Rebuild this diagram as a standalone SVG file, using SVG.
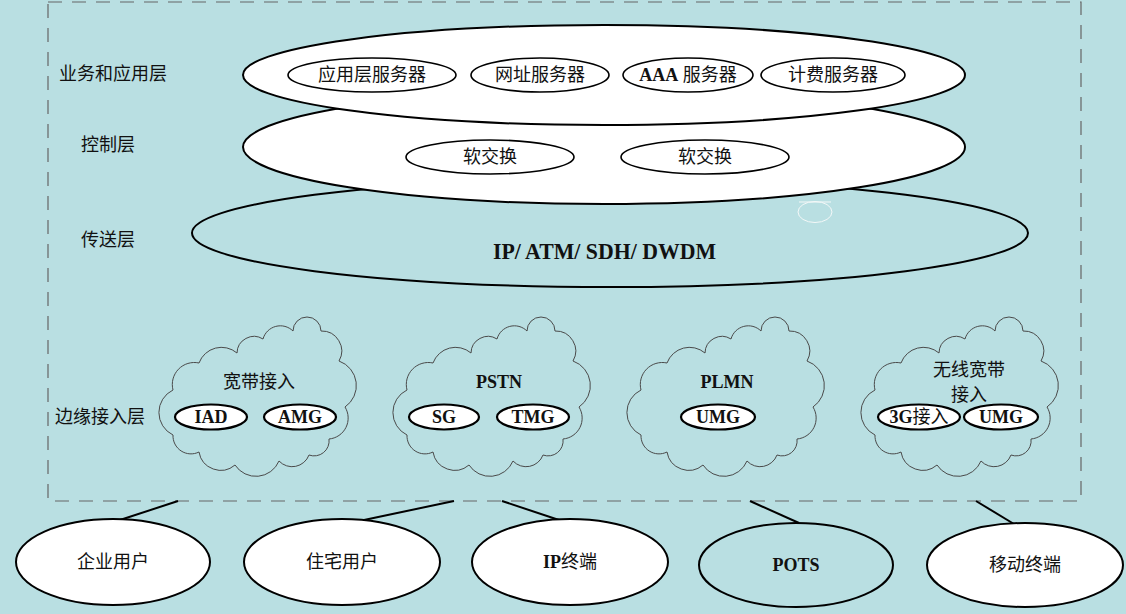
<svg xmlns="http://www.w3.org/2000/svg" xmlns:xlink="http://www.w3.org/1999/xlink" width="1126" height="614" viewBox="0 0 1126 614">
<style>
.t{font-family:"Liberation Serif","Noto Sans CJK SC",serif;font-size:18px;fill:#111;text-anchor:middle}
.b{font-weight:bold}
.lay{stroke:#000;stroke-width:2}
.in{fill:#fff;stroke:#000;stroke-width:1.6}
.sm{fill:#fff;stroke:#000;stroke-width:2.2}
.cl{fill:none;stroke:#4a4a4a;stroke-width:1}
.usr{stroke:#000;stroke-width:2}
.con line{stroke:#000;stroke-width:2}
</style>
<defs>
<path id="cloud" d="M40,137 A18,18 0 0 1 14,120 A25,25 0 0 1 14,75 A22,22 0 0 1 40,48 A24,24 0 0 1 78,38 A17,17 0 0 1 104,24 A18,18 0 0 1 134,16 A14,14 0 0 1 162,16 A20,20 0 0 1 180,46 A26,26 0 0 1 186,92 A21,21 0 0 1 170,124 A15,15 0 0 1 150,140 A18,18 0 0 1 120,146 A25,25 0 0 1 76,150 A22,22 0 0 1 40,137 Z"/>
</defs>
<rect width="1126" height="614" fill="#b9dfe2"/>
<rect x="48" y="2" width="1033" height="499" fill="none" stroke="#666" stroke-width="1.2" stroke-dasharray="14,10"/>

<g id="labels">
<text class="t" x="113" y="80">业务和应用层</text>
<text class="t" x="108" y="151">控制层</text>
<text class="t" x="108" y="246">传送层</text>
<text class="t" x="100" y="423">边缘接入层</text>
</g>

<g id="transport">
<ellipse class="lay" cx="610" cy="233" rx="418" ry="54" fill="#b9dfe2"/>
<ellipse cx="815" cy="212" rx="17" ry="10.5" fill="none" stroke="#f4f8f8" stroke-width="1"/>
<line x1="799" y1="202" x2="831" y2="202" stroke="#f4f8f8" stroke-width="1"/>
<text class="t b" x="493" y="259" style="font-size:24px;text-anchor:start" textLength="223" lengthAdjust="spacingAndGlyphs">IP/ ATM/ SDH/ DWDM</text>
</g>

<g id="control">
<ellipse class="lay" cx="604" cy="147" rx="361" ry="57" fill="#fff"/>
<g id="softswitch1"><ellipse class="in" cx="490" cy="157" rx="84" ry="17"/><text class="t" x="490" y="163">软交换</text></g>
<g id="softswitch2"><ellipse class="in" cx="705" cy="157" rx="84" ry="17"/><text class="t" x="705" y="163">软交换</text></g>
</g>

<g id="service">
<ellipse class="lay" cx="604" cy="75" rx="361" ry="50" fill="#fff"/>
<g id="appserver"><ellipse class="in" cx="372" cy="75" rx="84" ry="17"/><text class="t" x="372" y="81">应用层服务器</text></g>
<g id="urlserver"><ellipse class="in" cx="540" cy="75" rx="69" ry="17"/><text class="t" x="540" y="81">网址服务器</text></g>
<g id="aaaserver"><ellipse class="in" cx="688" cy="75" rx="65" ry="17"/><text class="t" x="688" y="81"><tspan class="b">AAA</tspan> 服务器</text></g>
<g id="billing"><ellipse class="in" cx="833" cy="75" rx="72" ry="17"/><text class="t" x="833" y="81">计费服务器</text></g>
</g>

<g id="broadband">
<use xlink:href="#cloud" href="#cloud" x="159" y="315" class="cl"/>
<text class="t" x="259" y="388">宽带接入</text>
<g id="iad"><ellipse class="sm" cx="211" cy="417" rx="36" ry="12.5"/><text class="t b" x="211" y="423">IAD</text></g>
<g id="amg"><ellipse class="sm" cx="300" cy="417" rx="36" ry="12.5"/><text class="t b" x="300" y="423">AMG</text></g>
</g>

<g id="pstn">
<use xlink:href="#cloud" href="#cloud" x="393" y="315" class="cl"/>
<text class="t b" x="499" y="388">PSTN</text>
<g id="sg"><ellipse class="sm" cx="444" cy="417" rx="35" ry="12.5"/><text class="t b" x="444" y="423">SG</text></g>
<g id="tmg"><ellipse class="sm" cx="533" cy="417" rx="36" ry="12.5"/><text class="t b" x="533" y="423">TMG</text></g>
</g>

<g id="plmn">
<use xlink:href="#cloud" href="#cloud" x="627" y="315" class="cl"/>
<text class="t b" x="727" y="388">PLMN</text>
<g id="umg1"><ellipse class="sm" cx="718" cy="417" rx="37" ry="12.5"/><text class="t b" x="718" y="423">UMG</text></g>
</g>

<g id="wireless">
<use xlink:href="#cloud" href="#cloud" x="861" y="315" class="cl"/>
<text class="t" x="969" y="376">无线宽带</text>
<text class="t" x="969" y="401">接入</text>
<g id="g3"><ellipse class="sm" cx="919" cy="417" rx="41" ry="12.5"/><text class="t" x="919" y="423"><tspan class="b">3G</tspan>接入</text></g>
<g id="umg2"><ellipse class="sm" cx="1001" cy="417" rx="37" ry="12.5"/><text class="t b" x="1001" y="423">UMG</text></g>
</g>

<g class="con" id="connectors">
<line x1="178" y1="501" x2="120" y2="520"/>
<line x1="454" y1="501" x2="364" y2="520"/>
<line x1="502" y1="501" x2="562" y2="521"/>
<line x1="750" y1="501" x2="799" y2="523"/>
<line x1="976" y1="501" x2="1014" y2="524"/>
</g>

<g id="enterprise"><ellipse class="usr" cx="113" cy="562" rx="97" ry="43" fill="#fff"/><text class="t" x="113" y="568">企业用户</text></g>
<g id="residential"><ellipse class="usr" cx="342" cy="562" rx="98" ry="43" fill="#fff"/><text class="t" x="342" y="568">住宅用户</text></g>
<g id="ipterminal"><ellipse class="usr" cx="570" cy="562" rx="98" ry="43" fill="#fff"/><text class="t" x="570" y="568"><tspan class="b">IP</tspan>终端</text></g>
<g id="pots"><ellipse class="usr" cx="796" cy="565" rx="97" ry="42" fill="#b9dfe2"/><text class="t b" x="796" y="571">POTS</text></g>
<g id="mobile"><ellipse class="usr" cx="1025" cy="565" rx="98" ry="42" fill="#fff"/><text class="t" x="1025" y="571">移动终端</text></g>
</svg>
